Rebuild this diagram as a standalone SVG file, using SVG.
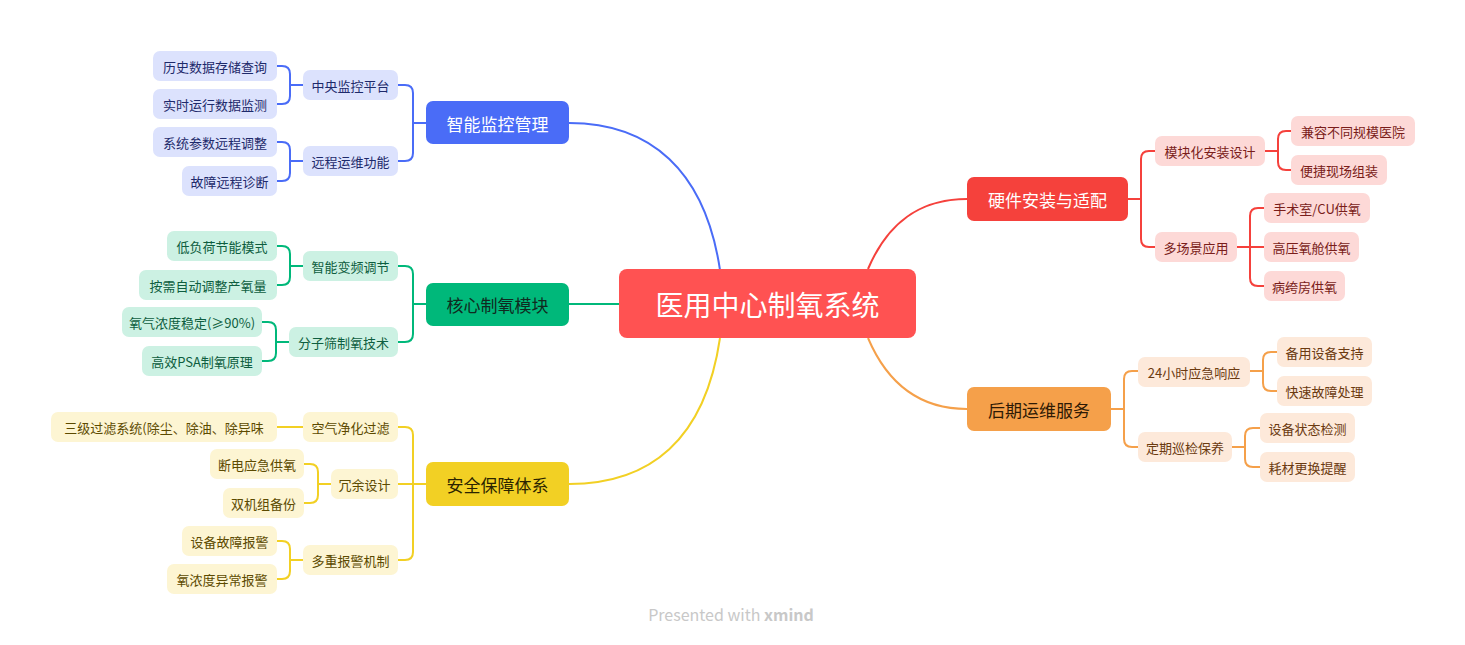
<svg xmlns="http://www.w3.org/2000/svg" width="1465" height="645" viewBox="0 0 1465 645">
<style>
text{font-family:"Noto Sans CJK SC","Liberation Sans",sans-serif;text-anchor:middle;dominant-baseline:central}
.l{font-size:13px}
.m{font-size:17px}
.c path{fill:none;stroke-width:2}
.b{stroke:#4A6CF7}.g{stroke:#00B87A}.y{stroke:#F2D024}.r{stroke:#F5413C}.o{stroke:#F5A04A}
.bl rect{fill:#DCE2FD}.bl text{fill:#1E2A6B}
.gl rect{fill:#CCF1E3}.gl text{fill:#0E5E40}
.yl rect{fill:#FDF5D3}.yl text{fill:#5C4A00}
.rl rect{fill:#FDD9D7}.rl text{fill:#7A1D1A}
.ol rect{fill:#FDE9DA}.ol text{fill:#6B3A10}
</style>
<rect width="1465" height="645" fill="#fff"/>
<g class="c" id="connectors">
<path class="b" d="M720,270 C705,170 650,123 569,123"/>
<path class="g" d="M569,304 H619"/>
<path class="y" d="M720,338 C705,440 650,484 569,484"/>
<path class="r" d="M868,269 C888,222 920,199 967,199"/>
<path class="o" d="M868,338 C888,385 920,409 967,409"/>
<!-- blue -->
<path class="b" d="M426,123 H413 V93 Q413,85 405,85 H398 M413,123 V153 Q413,161 405,161 H398"/>
<path class="b" d="M303,85 H290 V74 Q290,66 282,66 H277 M290,85 V96 Q290,104 282,104 H277"/>
<path class="b" d="M303,161 H290 V150 Q290,142 282,142 H277 M290,161 V173 Q290,181 282,181 H277"/>
<!-- green -->
<path class="g" d="M426,304 H413 V274 Q413,266 405,266 H398 M413,304 V334 Q413,342 405,342 H398"/>
<path class="g" d="M303,266 H290 V254 Q290,246 282,246 H277 M290,266 V277 Q290,285 282,285 H277"/>
<path class="g" d="M289,342 H276 V330 Q276,322 268,322 H262 M276,342 V353 Q276,361 268,361 H262"/>
<!-- yellow -->
<path class="y" d="M426,484 H413 V435 Q413,427 405,427 H398 M413,484 H398 M413,484 V552 Q413,560 405,560 H398"/>
<path class="y" d="M303,427 H277"/>
<path class="y" d="M331,484 H318 V472 Q318,464 310,464 H304 M318,484 V495 Q318,503 310,503 H304"/>
<path class="y" d="M303,560 H290 V549 Q290,541 282,541 H277 M290,560 V571 Q290,579 282,579 H277"/>
<!-- red -->
<path class="r" d="M1128,199 H1141 V159 Q1141,151 1149,151 H1155 M1141,199 V239 Q1141,247 1149,247 H1155"/>
<path class="r" d="M1265,151 H1278 V139 Q1278,131 1286,131 H1291 M1278,151 V162 Q1278,170 1286,170 H1291"/>
<path class="r" d="M1237,247 H1264 M1250,247 V216 Q1250,208 1258,208 H1264 M1250,247 V278 Q1250,286 1258,286 H1264"/>
<!-- orange -->
<path class="o" d="M1111,409 H1124 V379 Q1124,371 1132,371 H1138 M1124,409 V439 Q1124,447 1132,447 H1138"/>
<path class="o" d="M1250,371 H1263 V360 Q1263,352 1271,352 H1277 M1263,371 V383 Q1263,391 1271,391 H1277"/>
<path class="o" d="M1232,447 H1245 V436 Q1245,428 1253,428 H1260 M1245,447 V459 Q1245,467 1253,467 H1260"/>
</g>
<g id="center"><rect x="619" y="269" width="297" height="69" rx="8" fill="#FF5252"/><text x="767.5" y="304" font-size="28" fill="#fff">医用中心制氧系统</text></g>
<g id="m1"><rect x="426" y="101" width="143" height="43" rx="7" fill="#4A6CF7"/><text class="m" x="497.5" y="123" fill="#fff">智能监控管理</text></g>
<g id="m2"><rect x="426" y="283" width="143" height="43" rx="7" fill="#00B87A"/><text class="m" x="497.5" y="304" fill="#102a20">核心制氧模块</text></g>
<g id="m3"><rect x="426" y="462" width="143" height="44" rx="7" fill="#F2D024"/><text class="m" x="497.5" y="484" fill="#2b2400">安全保障体系</text></g>
<g id="m4"><rect x="967" y="177" width="161" height="44" rx="7" fill="#F5413C"/><text class="m" x="1047.5" y="199" fill="#fff">硬件安装与适配</text></g>
<g id="m5"><rect x="967" y="387" width="144" height="44" rx="7" fill="#F5A04A"/><text class="m" x="1039" y="409" fill="#2e1a05">后期运维服务</text></g>
<g class="bl">
<g id="b1"><rect x="303" y="70" width="95" height="30" rx="7"/><text class="l" x="350.5" y="85">中央监控平台</text></g>
<g id="b2"><rect x="303" y="146" width="95" height="30" rx="7"/><text class="l" x="350.5" y="161">远程运维功能</text></g>
<g id="b3"><rect x="153" y="51" width="124" height="30" rx="7"/><text class="l" x="215" y="66">历史数据存储查询</text></g>
<g id="b4"><rect x="153" y="89" width="124" height="30" rx="7"/><text class="l" x="215" y="104">实时运行数据监测</text></g>
<g id="b5"><rect x="153" y="127" width="124" height="30" rx="7"/><text class="l" x="215" y="142">系统参数远程调整</text></g>
<g id="b6"><rect x="182" y="166" width="95" height="30" rx="7"/><text class="l" x="229.5" y="181">故障远程诊断</text></g>
</g>
<g class="gl">
<g id="g1"><rect x="303" y="251" width="95" height="30" rx="7"/><text class="l" x="350.5" y="266">智能变频调节</text></g>
<g id="g2"><rect x="289" y="327" width="109" height="30" rx="7"/><text class="l" x="343.5" y="342">分子筛制氧技术</text></g>
<g id="g3"><rect x="167" y="231" width="110" height="30" rx="7"/><text class="l" x="222" y="246">低负荷节能模式</text></g>
<g id="g4"><rect x="139" y="270" width="138" height="30" rx="7"/><text class="l" x="208" y="285">按需自动调整产氧量</text></g>
<g id="g5"><rect x="122" y="307" width="140" height="30" rx="7"/><text class="l" x="192" y="322">氧气浓度稳定(≥90%)</text></g>
<g id="g6"><rect x="142" y="346" width="120" height="30" rx="7"/><text class="l" x="202" y="361">高效PSA制氧原理</text></g>
</g>
<g class="yl">
<g id="y1"><rect x="303" y="412" width="95" height="30" rx="7"/><text class="l" x="350.5" y="427">空气净化过滤</text></g>
<g id="y2"><rect x="331" y="469" width="67" height="30" rx="7"/><text class="l" x="364.5" y="484">冗余设计</text></g>
<g id="y3"><rect x="303" y="545" width="95" height="30" rx="7"/><text class="l" x="350.5" y="560">多重报警机制</text></g>
<g id="y4"><rect x="51" y="412" width="226" height="30" rx="7"/><text class="l" x="164" y="427">三级过滤系统(除尘、除油、除异味</text></g>
<g id="y5"><rect x="210" y="449" width="94" height="30" rx="7"/><text class="l" x="257" y="464">断电应急供氧</text></g>
<g id="y6"><rect x="223" y="488" width="81" height="30" rx="7"/><text class="l" x="263.5" y="503">双机组备份</text></g>
<g id="y7"><rect x="182" y="526" width="95" height="30" rx="7"/><text class="l" x="229.5" y="541">设备故障报警</text></g>
<g id="y8"><rect x="167" y="564" width="110" height="30" rx="7"/><text class="l" x="222" y="579">氧浓度异常报警</text></g>
</g>
<g class="rl">
<g id="r1"><rect x="1155" y="136" width="110" height="30" rx="7"/><text class="l" x="1210" y="151">模块化安装设计</text></g>
<g id="r2"><rect x="1155" y="232" width="82" height="30" rx="7"/><text class="l" x="1196" y="247">多场景应用</text></g>
<g id="r3"><rect x="1291" y="116" width="124" height="30" rx="7"/><text class="l" x="1353" y="131">兼容不同规模医院</text></g>
<g id="r4"><rect x="1291" y="155" width="96" height="30" rx="7"/><text class="l" x="1339" y="170">便捷现场组装</text></g>
<g id="r5"><rect x="1264" y="193" width="106" height="30" rx="7"/><text class="l" x="1317" y="208">手术室/CU供氧</text></g>
<g id="r6"><rect x="1264" y="232" width="95" height="30" rx="7"/><text class="l" x="1311.5" y="247">高压氧舱供氧</text></g>
<g id="r7"><rect x="1264" y="271" width="81" height="30" rx="7"/><text class="l" x="1304.5" y="286">病绔房供氧</text></g>
</g>
<g class="ol">
<g id="o1"><rect x="1138" y="357" width="112" height="30" rx="7"/><text class="l" x="1194" y="372">24小时应急响应</text></g>
<g id="o2"><rect x="1138" y="432" width="94" height="30" rx="7"/><text class="l" x="1185" y="447">定期巡检保养</text></g>
<g id="o3"><rect x="1277" y="337" width="95" height="30" rx="7"/><text class="l" x="1324.5" y="352">备用设备支持</text></g>
<g id="o4"><rect x="1277" y="376" width="95" height="30" rx="7"/><text class="l" x="1324.5" y="391">快速故障处理</text></g>
<g id="o5"><rect x="1260" y="413" width="95" height="30" rx="7"/><text class="l" x="1307.5" y="428">设备状态检测</text></g>
<g id="o6"><rect x="1260" y="452" width="95" height="30" rx="7"/><text class="l" x="1307.5" y="467">耗材更换提醒</text></g>
</g>
<text x="731" y="614" font-size="16" fill="#c8c8c8" font-family="Inter,'Liberation Sans',sans-serif">Presented with <tspan font-weight="bold">xmind</tspan></text>
</svg>
